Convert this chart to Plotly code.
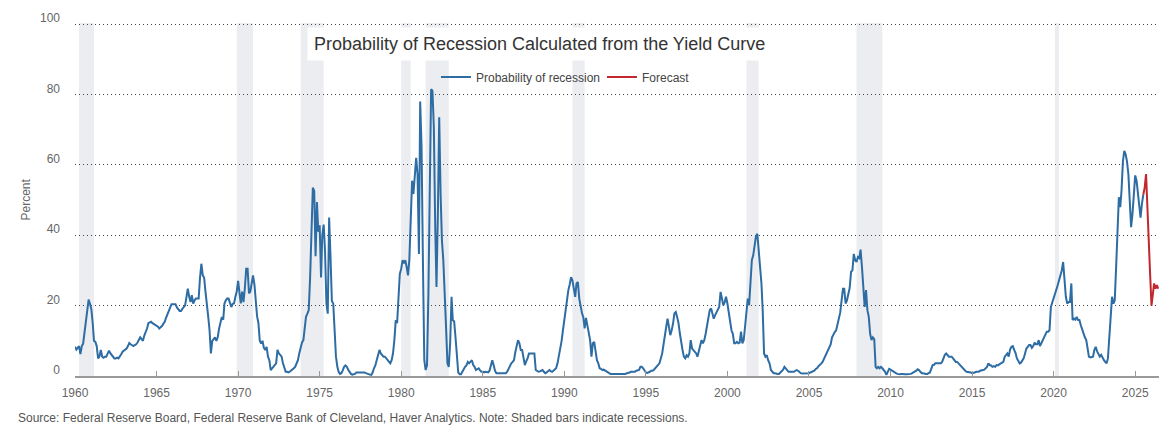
import pandas as pd
import plotly.graph_objects as go

# ---- Data (monthly, percent) ----
prob_1960s = [
    8.3, 7.5, 8.0, 8.5, 6.2, 8.5, 9.2, 12.0, 16.0, 18.5, 21.7, 20.5,   # 1960
    19.0, 15.0, 10.0, 9.7, 8.5, 5.0, 5.5, 7.4, 5.5, 5.2, 5.5, 5.5,      # 1961
    6.5, 7.2, 6.5, 6.0, 5.5, 5.0, 5.0, 5.2, 5.0, 5.5, 6.2, 6.9,         # 1962
    7.2, 7.5, 7.8, 8.5, 9.4, 9.0, 8.8, 8.5, 8.8, 9.0, 9.5, 10.5,        # 1963
    11.0, 10.5, 10.0, 11.5, 12.3, 13.5, 15.0, 15.2, 15.4, 15.0, 14.8, 14.4,  # 1964
    14.4, 14.0, 13.5, 13.8, 14.2, 14.8, 15.4, 16.5, 17.5, 18.7, 19.5, 20.4,  # 1965
    20.4, 20.5, 20.4, 19.5, 18.9, 18.5, 18.5, 18.9, 19.6, 20.0, 22.0, 24.8,  # 1966
    22.5, 21.0, 23.0, 20.6, 21.5, 22.0, 22.0, 22.0, 28.0, 31.9, 28.6, 28.0,  # 1967
    24.0, 21.0, 17.0, 13.0, 6.4, 10.0, 10.5, 11.0, 10.0, 11.0, 13.5, 15.5,   # 1968
    16.8, 16.0, 20.6, 21.5, 22.0, 22.0, 21.0, 19.6, 20.5, 20.6, 22.5, 24.0,  # 1969
]
prob_1970s = [
    27.0, 24.0, 20.6, 24.0, 21.0, 25.0, 30.5, 30.5, 23.5, 24.0, 27.0, 28.6,  # 1970
    26.0, 21.5, 17.0, 15.0, 10.0, 9.2, 10.0, 8.0, 7.4, 8.3, 5.5, 4.5,        # 1971
    1.7, 2.2, 2.6, 3.1, 3.6, 7.4, 6.4, 6.0, 5.5, 3.6, 2.2, 1.2,              # 1972
    1.2, 1.0, 1.2, 1.5, 1.7, 2.2, 2.6, 3.5, 4.5, 6.4, 8.0, 9.5,              # 1973
    10.2, 13.0, 16.8, 17.7, 18.7, 28.0, 45.0, 53.5, 52.6, 34.0, 49.4, 41.0,  # 1974
    42.8, 28.0, 40.0, 43.0, 35.7, 20.6, 17.7, 45.0, 33.8, 21.3, 20.6, 11.0,  # 1975
    5.5, 2.6, 1.2, 0.6, 0.8, 1.6, 2.6, 3.0, 2.6, 1.8, 1.0, 0.6,              # 1976
    0.4, 0.5, 0.6, 1.0, 1.0, 1.2, 1.0, 1.2, 1.1, 1.0, 0.8, 0.6,              # 1977
    0.5, 0.4, 0.3, 1.0, 2.2, 3.0, 4.5, 6.0, 7.4, 6.4, 6.0, 5.5,              # 1978
    5.5, 5.0, 4.5, 4.0, 3.6, 4.5, 6.4, 10.2, 15.9, 15.0, 23.4, 29.0,         # 1979
]
prob_1980s = [
    30.5, 32.9, 32.0, 32.9, 31.0, 28.6, 33.0, 42.3, 55.5, 51.7, 56.5, 62.0,  # 1980
    57.4, 34.7, 78.0, 65.0, 32.9, 4.5, 1.7, 3.0, 23.4, 61.0, 81.5, 81.0,     # 1981
    70.6, 42.3, 25.3, 46.0, 73.5, 51.7, 38.5, 32.9, 25.0, 14.0, 3.6, 2.6,    # 1982
    9.3, 22.5, 15.9, 15.5, 11.0, 4.5, 1.0, 0.5, 0.5, 1.2, 2.2, 2.6,          # 1983
    3.0, 4.0, 3.6, 4.2, 4.5, 3.1, 2.6, 1.7, 1.9, 2.2, 1.6, 1.2,              # 1984
    1.2, 1.0, 1.2, 1.2, 1.0, 1.5, 3.0, 4.5, 3.1, 1.5, 0.8, 0.8,              # 1985
    0.8, 0.7, 0.7, 0.8, 0.8, 0.8, 1.2, 2.0, 3.0, 3.6, 4.0, 4.5,              # 1986
    6.9, 8.5, 10.2, 9.3, 7.4, 7.4, 5.5, 3.1, 4.2, 5.0, 6.4, 6.4,             # 1987
    6.4, 6.4, 6.4, 1.7, 1.5, 1.2, 1.3, 1.5, 1.7, 1.2, 0.8, 1.0,              # 1988
    1.5, 1.7, 1.4, 1.2, 1.5, 2.0, 2.2, 3.6, 5.5, 7.4, 10.0, 13.0,            # 1989
]
prob_1990s = [
    16.0, 19.6, 21.5, 24.4, 26.0, 28.1, 27.2, 25.0, 22.5, 26.3, 26.7, 22.0,  # 1990
    19.6, 17.8, 16.8, 13.5, 16.5, 14.5, 13.0, 10.2, 5.5, 9.3, 9.7, 6.5,      # 1991
    4.5, 3.6, 2.2, 2.0, 1.7, 1.8, 1.5, 1.2, 1.0, 0.8, 0.6, 0.6,              # 1992
    0.6, 0.5, 0.5, 0.5, 0.4, 0.5, 0.5, 0.4, 0.5, 0.6, 0.8, 0.8,              # 1993
    1.0, 1.2, 1.2, 1.0, 1.2, 1.5, 1.7, 1.7, 2.6, 2.6, 2.2, 1.5,              # 1994
    1.0, 0.9, 1.0, 1.2, 1.5, 1.5, 1.8, 2.2, 2.6, 3.0, 3.6, 5.0,              # 1995
    6.4, 9.0, 12.0, 14.0, 16.3, 14.0, 11.6, 13.0, 14.9, 17.8, 18.2, 16.8,    # 1996
    15.0, 12.0, 9.0, 7.4, 5.5, 5.0, 5.9, 5.5, 6.4, 10.2, 7.8, 7.4,           # 1997
    7.0, 6.4, 5.5, 6.9, 8.5, 10.2, 9.3, 10.2, 12.0, 14.0, 15.9, 18.7,        # 1998
    19.2, 17.3, 16.3, 17.3, 18.0, 18.7, 19.6, 23.9, 21.5, 20.1, 21.0, 22.5,  # 1999
]
prob_2000s = [
    20.6, 17.5, 14.9, 13.0, 12.0, 9.3, 9.3, 9.7, 9.3, 9.5, 12.6, 9.3,        # 2000
    10.2, 14.0, 17.8, 22.0, 20.1, 26.3, 32.9, 34.3, 37.0, 39.7, 40.4, 36.0,  # 2001
    32.9, 26.3, 18.7, 6.4, 5.5, 5.9, 4.5, 3.6, 1.7, 1.2, 0.8, 0.8,           # 2002
    0.6, 0.6, 0.6, 1.0, 1.2, 1.8, 2.6, 2.2, 1.5, 1.2, 1.2, 1.2,              # 2003
    1.2, 1.2, 1.5, 1.7, 1.5, 1.0, 0.8, 0.7, 0.7, 0.7, 0.7, 0.7,              # 2004
    0.8, 1.0, 1.2, 1.2, 1.5, 2.0, 2.2, 2.8, 3.1, 3.5, 4.0, 4.8,              # 2005
    5.5, 6.5, 7.0, 7.8, 9.0, 11.0, 12.0, 12.5, 13.0, 14.5, 15.9, 18.0,       # 2006
    21.5, 24.8, 24.8, 20.6, 21.5, 23.4, 25.0, 29.6, 30.0, 34.7, 32.9, 32.4,  # 2007
    33.8, 33.5, 35.9, 31.0, 25.3, 19.6, 24.4, 18.7, 16.8, 12.0, 10.2, 11.0,  # 2008
    10.5, 2.6, 2.2, 2.6, 2.2, 2.6, 2.2, 1.7, 1.2, 0.3, 1.0, 2.0,             # 2009
]
prob_2010s = [
    1.8, 1.5, 1.2, 1.0, 0.8, 0.6, 0.5, 0.5, 0.6, 0.5, 0.5, 0.5,              # 2010
    0.5, 0.5, 0.6, 0.6, 0.8, 1.0, 1.2, 1.5, 1.9, 1.7, 1.2, 0.8,              # 2011
    0.8, 0.6, 0.6, 0.6, 0.8, 1.0, 2.0, 3.1, 3.2, 3.6, 3.6, 3.6,              # 2012
    3.6, 3.6, 4.0, 5.0, 6.0, 6.4, 6.0, 5.5, 5.5, 5.5, 5.0, 4.5,              # 2013
    4.0, 4.0, 3.6, 3.0, 2.6, 2.2, 1.8, 1.5, 1.2, 1.2, 1.2, 1.0,              # 2014
    0.8, 0.8, 1.0, 1.2, 1.2, 1.2, 1.5, 1.5, 1.7, 1.8, 2.2, 2.6,              # 2015
    3.6, 3.1, 3.0, 2.6, 2.8, 2.6, 3.1, 3.0, 3.3, 3.6, 3.8, 4.0,              # 2016
    5.5, 5.9, 6.4, 5.5, 7.5, 8.3, 8.5, 7.4, 6.5, 5.0, 4.0, 3.6,              # 2017
    3.8, 4.5, 5.0, 6.4, 7.8, 8.3, 8.8, 8.8, 8.0, 8.5, 9.5, 9.0,              # 2018
    9.0, 10.2, 8.5, 9.3, 10.2, 10.7, 12.1, 12.6, 12.6, 13.0, 19.6, 21.0,     # 2019
]
prob_2020s = [
    22.5, 23.4, 24.5, 25.8, 27.2, 28.6, 30.0, 32.4, 28.1, 22.5, 20.6, 21.0,  # 2020
    21.0, 26.3, 15.9, 16.3, 16.0, 16.8, 15.9, 15.9, 14.4, 13.0, 12.1, 11.0,  # 2021
    10.2, 7.8, 5.5, 5.3, 5.5, 5.5, 7.4, 8.3, 7.0, 6.0, 5.5, 6.0,             # 2022
    5.0, 4.5, 4.0, 3.6, 5.0, 10.2, 15.9, 22.5, 20.6, 21.5, 31.0, 40.4,       # 2023
    50.8, 48.0, 52.7, 61.0, 64.0, 63.0, 61.0, 57.4, 50.0, 42.3, 46.0, 52.0,  # 2024
    57.0, 55.5, 52.5, 49.0, 45.0, 49.0, 51.5,                                # 2025 (Jan-Jul)
]
# Forecast: Jul 2025 - Jun 2026
forecast = [51.5, 53.5, 57.4, 46.0, 38.0, 29.0, 20.0, 23.4, 26.3, 24.8, 25.8, 24.8]

recession_starts = ["1960-04-01", "1969-12-01", "1973-11-01", "1980-01-01", "1981-07-01",
                    "1990-07-01", "2001-03-01", "2007-12-01", "2020-02-01"]
recession_ends = ["1961-03-01", "1970-12-01", "1975-04-01", "1980-08-01", "1982-12-01",
                  "1991-04-01", "2001-12-01", "2009-07-01", "2020-05-01"]

y_ticks = [0, 20, 40, 60, 80, 100]

# ---- Build series ----
prob = prob_1960s + prob_1970s + prob_1980s + prob_1990s + prob_2000s + prob_2010s + prob_2020s
prob_dates = pd.date_range("1960-01-01", periods=len(prob), freq="MS")
fc_dates = pd.date_range("2025-07-01", periods=len(forecast), freq="MS")

FONT = "Arial, 'Liberation Sans', sans-serif"
BLUE = "#2e6ca4"
RED = "#c1272d"

fig = go.Figure()
fig.add_trace(go.Scatter(x=prob_dates, y=prob, mode="lines", name="Probability of recession",
                         line=dict(color=BLUE, width=2)))
fig.add_trace(go.Scatter(x=fc_dates, y=forecast, mode="lines", name="Forecast",
                         line=dict(color=RED, width=2)))

for s, e in zip(recession_starts, recession_ends):
    fig.add_vrect(x0=s, x1=e, fillcolor="#ebedf0", opacity=1, line_width=0, layer="below")

fig.update_layout(
    width=1171, height=445,
    margin=dict(l=75, r=12, t=23, b=69),
    paper_bgcolor="white", plot_bgcolor="white",
    font=dict(family=FONT, size=12, color="#666"),
    showlegend=True,
    legend=dict(orientation="h", x=0.333, y=0.847, xanchor="left", yanchor="middle",
                bgcolor="rgba(0,0,0,0)", font=dict(size=12, color="#444"),
                entrywidth=121, entrywidthmode="pixels"),
    xaxis=dict(type="date", range=["1960-01-01", "2026-06-18"],
               tick0="1960-01-01", dtick="M60", tickformat="%Y",
               ticks="inside", ticklen=5, tickwidth=1, tickcolor="#999",
               showline=True, linecolor="#999", linewidth=2,
               showgrid=False, zeroline=False,
               tickfont=dict(size=12, color="#666"), ticklabelstandoff=5),
    yaxis=dict(range=[0, 100.3], tickvals=y_ticks,
               showgrid=True, griddash="1px,3px", gridcolor="#444", gridwidth=1,
               zeroline=False, showline=False, ticks="",
               tickfont=dict(size=12, color="#666"),
               ticklabelshift=-6, ticklabelstandoff=14),
    annotations=[
        dict(text="Probability of Recession Calculated from the Yield Curve",
             xref="paper", yref="paper", x=0.4285, y=0.9405, xanchor="center", yanchor="middle",
             showarrow=False, font=dict(size=18, color="#333", family=FONT),
             bgcolor="white", borderpad=6),
        dict(text="Percent", xref="paper", yref="paper", x=-0.0461, y=0.5,
             xanchor="center", yanchor="middle", textangle=-90, showarrow=False,
             font=dict(size=12, color="#666", family=FONT)),
        dict(text="Source: Federal Reserve Board, Federal Reserve Bank of Cleveland, Haver Analytics. "
                  "Note: Shaded bars indicate recessions.",
             xref="paper", yref="paper", x=-0.0544, y=-0.119, xanchor="left", yanchor="middle",
             showarrow=False, font=dict(size=12, color="#555", family=FONT)),
    ],
)

fig.write_html("out.html")
